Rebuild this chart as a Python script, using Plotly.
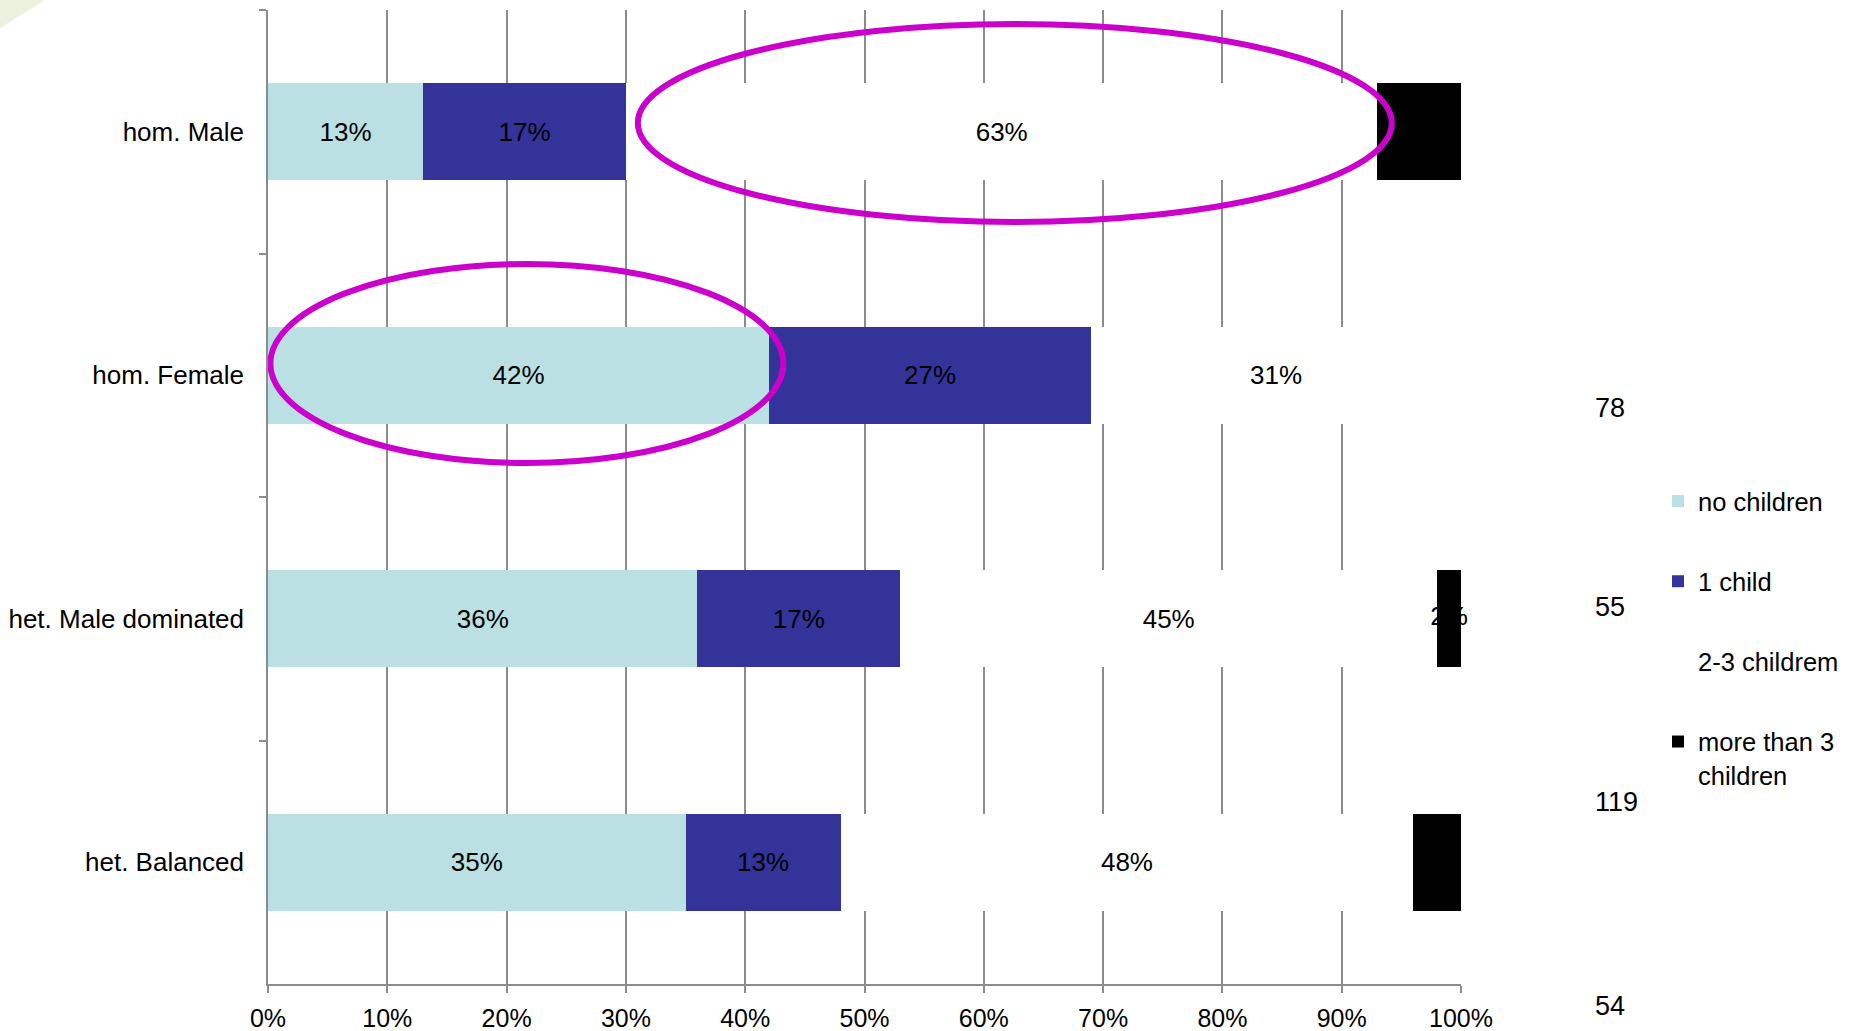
import plotly.graph_objects as go

# Household groups (top to bottom) and share of each number-of-children class
groups = ["hom. Male", "hom. Female", "het. Male dominated", "het. Balanced"]
series_names = ["no children", "1 child", "2-3 childrem", "more than 3<br>children"]
no_children = [13, 42, 36, 35]
one_child = [17, 27, 17, 13]
two_three = [63, 31, 45, 48]
more_than_three = [7, 0, 2, 4]
sample_sizes = ["78", "55", "119", "54"]

colors = ["#BBE0E3", "#333399", "#FFFFFF", "#000000"]
font_family = "Liberation Sans, Arial, sans-serif"
series = [no_children, one_child, two_three, more_than_three]

fig = go.Figure()
for i, (name, vals, col) in enumerate(zip(series_names, series, colors)):
    last = i == len(series) - 1
    fig.add_trace(go.Bar(
        y=groups, x=vals, name=name, orientation="h", legendgroup=f"g{i}",
        marker=dict(color=col, line=dict(width=0)),
        text=None if last else [f"{v}%" if v > 0 else "" for v in vals],
        textposition="inside", insidetextanchor="middle",
        constraintext="none", cliponaxis=False,
        textfont=dict(color="black", size=26, family=font_family),
        hoverinfo="skip",
    ))

# labels of the last segment are allowed to spill past the narrow bars
starts = [a + b + c for a, b, c in zip(no_children, one_child, two_three)]
fig.add_trace(go.Scatter(
    y=groups, x=[s + v / 2 for s, v in zip(starts, more_than_three)],
    mode="text", text=[f"{v}%" if v > 0 else "" for v in more_than_three],
    textfont=dict(color="black", size=26, family=font_family),
    showlegend=False, cliponaxis=False, hoverinfo="skip",
))

# plot area in pixels
L, R, T, B = 268, 1461, 10, 984
W, H = 1861, 1031


def px(x):
    return (x - L) / (R - L)


def py(y):
    return (B - y) / (B - T)


# sample size labels to the right of the plot
for txt, yy in zip(sample_sizes, [408, 607, 802, 1006]):
    fig.add_annotation(text=txt, xref="paper", yref="paper", x=px(1593), y=py(yy),
                       xanchor="left", yanchor="middle", showarrow=False,
                       font=dict(size=27, color="black", family=font_family))

# highlight ellipses
mag = "#CC00CC"
fig.add_shape(type="circle", xref="x", yref="paper",
              x0=31.0, x1=94.2, y0=py(222), y1=py(24),
              line=dict(color=mag, width=6), layer="above")
fig.add_shape(type="circle", xref="x", yref="paper",
              x0=0.2, x1=43.2, y0=py(463), y1=py(264),
              line=dict(color=mag, width=6), layer="above")

# decorative corner triangle
fig.add_shape(type="path", xref="paper", yref="paper",
              path=f"M {px(0)},{py(0)} L {px(45)},{py(0)} L {px(0)},{py(28)} Z",
              fillcolor="#EAF1DD", line=dict(width=0), layer="below")

grid = "#8C8C8C"
fig.update_layout(
    barmode="stack", bargap=0.6,
    width=W, height=H,
    margin=dict(l=L, r=W - R, t=T, b=H - B, pad=0, autoexpand=False),
    plot_bgcolor="white", paper_bgcolor="white",
    font=dict(family=font_family, size=25, color="black"),
    showlegend=True,
    legend=dict(x=px(1658), y=py(478), xanchor="left", yanchor="top",
                font=dict(size=25.5, family=font_family, color="black"),
                traceorder="grouped", tracegroupgap=44, valign="top",
                bgcolor="rgba(0,0,0,0)"),
    xaxis=dict(range=[0, 100], dtick=10, ticksuffix="%", showgrid=True,
               gridcolor=grid, gridwidth=1.5, showline=True, linecolor=grid,
               linewidth=1.5, ticks="outside", ticklen=7, tickcolor=grid,
               tickwidth=1.5, zeroline=False, fixedrange=True,
               ticklabelstandoff=4, automargin=False,
               tickfont=dict(size=25, family=font_family)),
    yaxis=dict(autorange="reversed", showline=True, linecolor=grid, linewidth=1.5,
               ticks="outside", ticklen=7, tickcolor=grid, tickwidth=1.5,
               tickson="boundaries", showgrid=False, ticklabelstandoff=17,
               automargin=False,
               tickfont=dict(size=26, family=font_family)),
)

fig.write_html("out.html")
